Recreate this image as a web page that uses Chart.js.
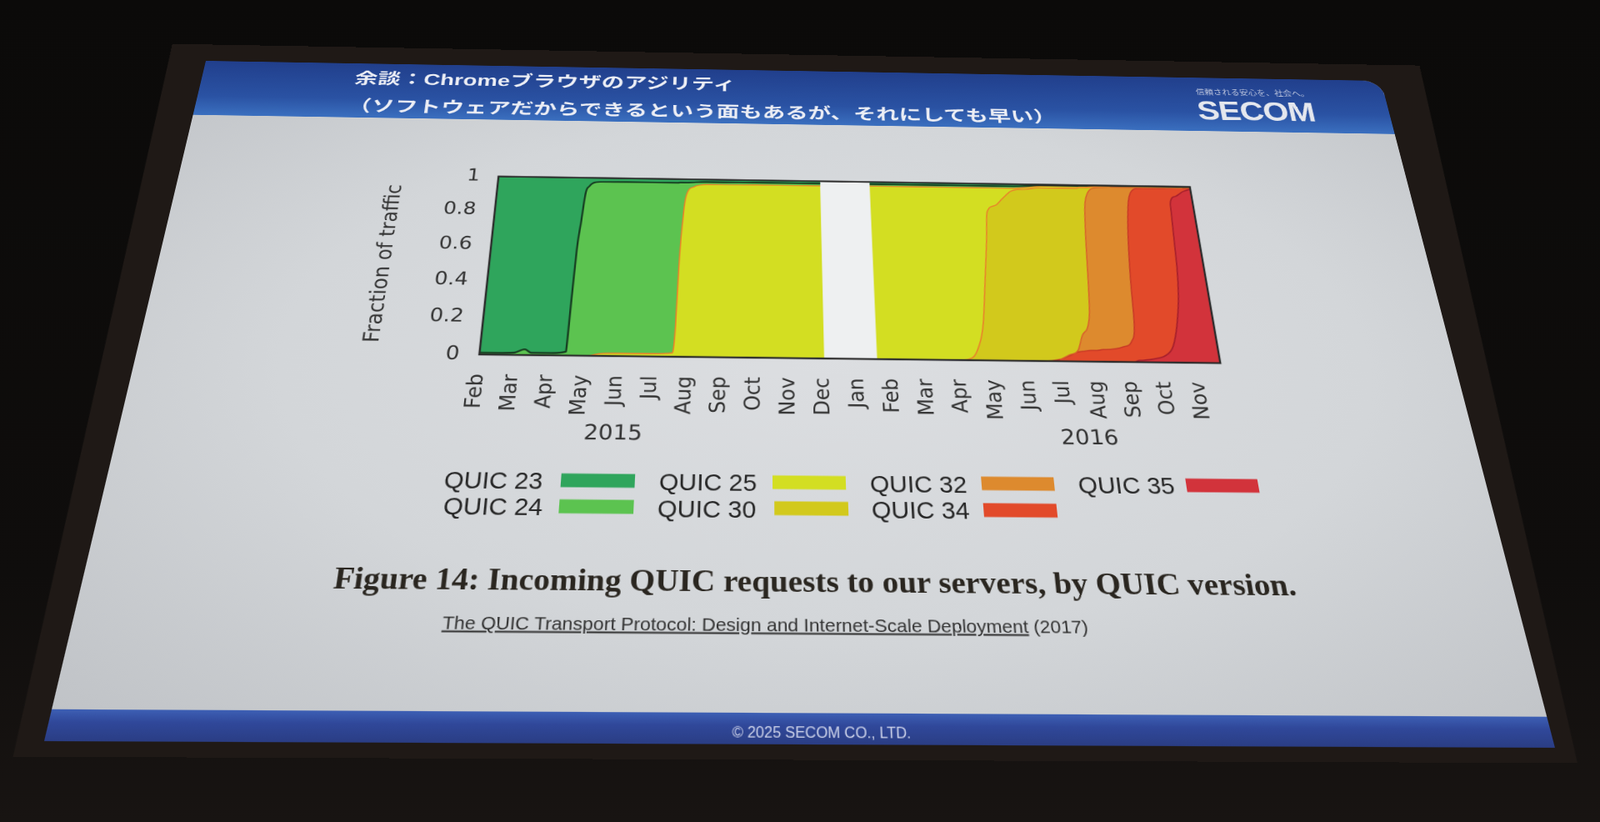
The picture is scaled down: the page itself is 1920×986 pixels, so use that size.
<!DOCTYPE html>
<html lang="ja">
<head>
<meta charset="utf-8">
<title>Incoming QUIC requests by QUIC version</title>
<script src="https://cdn.jsdelivr.net/npm/chart.js@4.4.1/dist/chart.umd.min.js"></script>
<style>
  html, body { margin: 0; width: 1920px; height: 986px; overflow: hidden; }
  body { background: linear-gradient(180deg, #0b0a09 0%, #0f0d0c 70%, #181412 100%); }
  #screen { position: absolute; left: 0; top: 0; width: 1600px; height: 900px; transform-origin: 0 0; }
  #back {
    position: absolute; left: -50px; top: -28px; width: 1710px; height: 944px; background: #1f1916;
    clip-path: polygon(0 0, 100% 0, calc(100% - 40px) 100%, 22px 100%);
  }
  #slide {
    position: absolute; left: 0; top: 0; width: 1600px; height: 900px; overflow: hidden;
    border-top-right-radius: 26px;
    background: radial-gradient(ellipse 75% 70% at 52% 48%, #dcdee1 0%, #d3d6d9 55%, #bfc2c6 100%);
  }
  #head { position: absolute; left: 0; top: 0; width: 1600px;
          background: linear-gradient(180deg, #213f8c 0%, #2a52a3 65%, #3a6fbf 100%); }
  #foot { position: absolute; left: 0; bottom: 0; width: 1600px;
          background: linear-gradient(180deg, #3d5fb4 0%, #30489a 40%, #2a3d84 100%); }
  .txt { position: absolute; white-space: nowrap; line-height: 1; }
  #t1, #t2 { font-family: 'Noto Sans CJK JP', sans-serif; font-weight: 700; font-size: 30.6px; color: #eceef5; }
  #t1 .latin { font-family: 'Liberation Sans Narrow', 'Liberation Sans', sans-serif; font-weight: 700; }
  #logo { font-family: 'Liberation Sans', Arial, sans-serif; font-weight: 700; font-size: 45px; color: #e4e7ee; letter-spacing: -1px; }
  #tag { font-family: 'Noto Sans CJK JP', sans-serif; font-size: 12px; color: #b9c2dc; }
  #caption { font-family: 'Liberation Serif', serif; font-weight: 700; font-size: 36.5px; color: #2a2620; }
  #ref { font-family: 'Liberation Sans', Arial, sans-serif; font-size: 21px; color: #333; }
  #copy { font-family: 'Liberation Sans', Arial, sans-serif; font-size: 16px; color: #cdd3ea; }
  .legtxt { font-family: 'Liberation Sans', Arial, sans-serif; font-size: 29px; color: #262626; }
  .legsw { position: absolute; width: 85px; height: 17px; }
  #chartBox { position: absolute; }
</style>
</head>
<body>
<div id="screen">
  <div id="back"></div>
  <div id="slide">
    <div id="head"></div>
    <div id="foot"></div>
    <div id="t1" class="txt">余談：<span class="latin">Chrome</span>ブラウザのアジリティ</div>
    <div id="t2" class="txt">（ソフトウェアだからできるという面もあるが、それにしても早い）</div>
    <div id="tag" class="txt">信頼される安心を、社会へ。</div>
    <div id="logo" class="txt">SECOM</div>
    <div id="chartBox"><canvas id="chart"></canvas></div>
    <div id="caption" class="txt">Figure 14: Incoming QUIC requests to our servers, by QUIC version.</div>
    <div id="ref" class="txt"><u>The QUIC Transport Protocol: Design and Internet-Scale Deployment</u> (2017)</div>
    <div id="copy" class="txt">© 2025 SECOM CO., LTD.</div>
  </div>
</div>
<script>
// ── Data ───────────────────────────────────────────────────
// x = months since Feb 2015 (0 = Feb 2015, 21 = Nov 2016); null = no data (Dec–Jan gap)
const months = [0, 0.5, 1, 1.3, 1.5, 2, 2.5, 2.55, 2.6, 2.67,
  2.74, 2.85, 3.1, 3.5, 4, 5, 5.6, 5.67, 5.71, 5.8,
  5.88, 6.1, 6.5, 7, 8, 9, 10.05, 10.8, 11.6, 12,
  13, 14, 14.38, 14.57, 14.81, 14.98, 15.14, 15.23, 15.5, 15.74,
  16.07, 16.5, 17, 17.3, 17.57, 17.75, 17.95, 18.05, 18.13, 18.22,
  18.32, 18.4, 18.7, 18.92, 19.2, 19.36, 19.43, 19.54, 19.7, 19.8,
  20.08, 20.23, 20.37, 20.49, 20.65, 20.83, 20.92, 20.97, 21.02, 21.04,
  21.23, 21.5, 21.75];

const q23 = [0.99, 0.99, 0.988, 0.97, 0.988, 0.988, 0.98, 0.70, 0.42, 0.26,
  0.10, 0.05, 0.025, 0.023, 0.022, 0.022, 0.022, 0.02, 0.02, 0.02,
  0.02, 0.018, 0.015, 0.015, 0.014, 0.014, 0.014, null, 0.013, 0.013,
  0.013, 0.013, 0.013, 0.013, 0.013, 0.013, 0.013, 0.013, 0.013, 0.013,
  0.013, 0.01, 0.005, 0.005, 0.005, 0.005, 0.005, 0.005, 0.005, 0.004,
  0.004, 0.004, 0.002, 0.002, 0.002, 0.002, 0.002, 0.002, 0.002, 0.002,
  0.002, 0.002, 0.002, 0.002, 0.002, 0.002, 0.002, 0.002, 0.002, 0.002,
  0.002, 0.002, 0.002];
const q24 = [0.01, 0.01, 0.012, 0.03, 0.012, 0.012, 0.02, 0.30, 0.58, 0.74,
  0.90, 0.95, 0.975, 0.965, 0.963, 0.963, 0.958, 0.81, 0.49, 0.18,
  0.07, 0.027, 0.015, 0.015, 0.014, 0.014, 0.014, null, 0.012, 0.012,
  0.012, 0.012, 0.012, 0.012, 0.012, 0.012, 0.012, 0.012, 0.012, 0.012,
  0.012, 0.01, 0.005, 0.005, 0.005, 0.005, 0.005, 0.005, 0.005, 0.004,
  0.004, 0.004, 0.003, 0.003, 0.003, 0.003, 0.003, 0.003, 0.003, 0.003,
  0.003, 0.003, 0.003, 0.003, 0.003, 0.003, 0.003, 0.003, 0.003, 0.003,
  0.003, 0.003, 0.003];
const q25 = [0, 0, 0, 0, 0, 0, 0, 0, 0, 0,
  0, 0, 0, 0.012, 0.015, 0.015, 0.02, 0.17, 0.49, 0.80,
  0.91, 0.955, 0.97, 0.97, 0.972, 0.972, 0.972, null, 0.975, 0.975,
  0.975, 0.975, 0.965, 0.925, 0.785, 0.545, 0.305, 0.145, 0.105, 0.065,
  0.015, 0.01, 0.01, 0.01, 0.01, 0.01, 0.01, 0.01, 0.01, 0.007,
  0.007, 0.007, 0.005, 0.005, 0.005, 0.005, 0.005, 0.005, 0.005, 0.005,
  0.005, 0.005, 0.005, 0.005, 0.005, 0.005, 0.005, 0.005, 0.005, 0.005,
  0.005, 0.005, 0.005];
const q30 = [0, 0, 0, 0, 0, 0, 0, 0, 0, 0,
  0, 0, 0, 0, 0, 0, 0, 0, 0, 0,
  0, 0, 0, 0, 0, 0, 0, null, 0, 0,
  0, 0, 0.01, 0.05, 0.19, 0.43, 0.67, 0.83, 0.87, 0.91,
  0.96, 0.97, 0.97, 0.945, 0.92, 0.84, 0.79, 0.71, 0.54, 0.305,
  0.115, 0.055, 0.005, 0.002, 0, 0, 0, 0, 0, 0,
  0, 0, 0, 0, 0, 0, 0, 0, 0, 0,
  0, 0, 0];
const q32 = [0, 0, 0, 0, 0, 0, 0, 0, 0, 0,
  0, 0, 0, 0, 0, 0, 0, 0, 0, 0,
  0, 0, 0, 0, 0, 0, 0, null, 0, 0,
  0, 0, 0, 0, 0, 0, 0, 0, 0, 0,
  0, 0, 0, 0.005, 0.01, 0.085, 0.13, 0.21, 0.38, 0.618,
  0.805, 0.865, 0.915, 0.908, 0.88, 0.77, 0.55, 0.31, 0.10, 0.04,
  0.005, 0.004, 0.004, 0.004, 0.003, 0.003, 0.003, 0.002, 0.002, 0.002,
  0.001, 0, 0];
const q34 = [0, 0, 0, 0, 0, 0, 0, 0, 0, 0,
  0, 0, 0, 0, 0, 0, 0, 0, 0, 0,
  0, 0, 0, 0, 0, 0, 0, null, 0, 0,
  0, 0, 0, 0, 0, 0, 0, 0, 0, 0,
  0, 0, 0.01, 0.03, 0.05, 0.055, 0.06, 0.06, 0.06, 0.062,
  0.065, 0.065, 0.07, 0.08, 0.11, 0.21, 0.43, 0.668, 0.875, 0.932,
  0.955, 0.941, 0.916, 0.871, 0.777, 0.617, 0.467, 0.308, 0.148, 0.088,
  0.049, 0.02, 0.005];
const q35 = [0, 0, 0, 0, 0, 0, 0, 0, 0, 0,
  0, 0, 0, 0, 0, 0, 0, 0, 0, 0,
  0, 0, 0, 0, 0, 0, 0, null, 0, 0,
  0, 0, 0, 0, 0, 0, 0, 0, 0, 0,
  0, 0, 0, 0, 0, 0, 0, 0, 0, 0,
  0, 0, 0, 0, 0, 0.01, 0.01, 0.012, 0.015, 0.018,
  0.03, 0.045, 0.07, 0.115, 0.21, 0.37, 0.52, 0.68, 0.84, 0.90,
  0.94, 0.97, 0.985];

const versionNames = ["QUIC 23", "QUIC 24", "QUIC 25", "QUIC 30", "QUIC 32", "QUIC 34", "QUIC 35"];
const versionValues = [q23, q24, q25, q30, q32, q34, q35];
const monthLabels = ["Feb", "Mar", "Apr", "May", "Jun", "Jul", "Aug", "Sep", "Oct", "Nov", "Dec",
  "Jan", "Feb", "Mar", "Apr", "May", "Jun", "Jul", "Aug", "Sep", "Oct", "Nov"];
const yearLabels = ["2015", "2016"];
const yearPos = [4.0, 17.6];
const X_MAX = 21.75;

// ── Styles ─────────────────────────────────────────────────
const fillColors = ["#2fa55c", "#5cc350", "#d3de22", "#d2c91c", "#dd8a2e", "#e24a2a", "#d2333b"];
const edgeColors = ["#2c3a2c", "#173f22", "#e9822a", "#e9822a", "#d8642a", "#c83a26", "#a8202c"];
const edgeWidths = [1.6, 2.4, 1.6, 1.6, 1.6, 1.6, 1.8];

// ── Slide geometry (photo is a projected slide seen at an angle) ──
const SW = 1600, SH = 900;
const corners = [[247, 73], [1657, 97], [1866, 897], [53, 889]]; // TL, TR, BR, BL in the photo

function squareToQuad(p) {
  const [[x0, y0], [x1, y1], [x2, y2], [x3, y3]] = p;
  const dx1 = x1 - x2, dx2 = x3 - x2, dy1 = y1 - y2, dy2 = y3 - y2;
  const sx = x0 - x1 + x2 - x3, sy = y0 - y1 + y2 - y3;
  const den = dx1 * dy2 - dx2 * dy1;
  const g = (sx * dy2 - dx2 * sy) / den;
  const h = (dx1 * sy - sx * dy1) / den;
  return { a: x1 - x0 + g * x1, b: x3 - x0 + h * x3, c: x0,
           d: y1 - y0 + g * y1, e: y3 - y0 + h * y3, f: y0, g, h };
}
const H = squareToQuad(corners);

function toSlide(X, Y) {
  const { a, b, c, d, e, f, g, h } = H;
  const A1 = a - g * X, B1 = b - h * X, C1 = X - c;
  const A2 = d - g * Y, B2 = e - h * Y, C2 = Y - f;
  const det = A1 * B2 - B1 * A2;
  return { x: (C1 * B2 - B1 * C2) / det * SW, y: (A1 * C2 - C1 * A2) / det * SH };
}

document.getElementById("screen").style.transform = "matrix3d(" + [
  H.a / SW, H.d / SW, 0, H.g / SW,
  H.b / SH, H.e / SH, 0, H.h / SH,
  0, 0, 1, 0,
  H.c, H.f, 0, 1].join(",") + ")";

function put(el, X, Y, anchor, extra) {
  const p = toSlide(X, Y);
  el.style.left = p.x + "px";
  el.style.top = p.y + "px";
  el.style.transform = (anchor === "c" ? "translate(-50%, -50%)" : "translate(0, -50%)") + (extra || "");
}

document.getElementById("head").style.height = toSlide(950, 149).y + "px";
document.getElementById("foot").style.height = (SH - toSlide(960, 855).y) + "px";
put(document.getElementById("t1"), 426, 93, "l", " scaleY(0.86)");
put(document.getElementById("t2"), 418, 125, "l", " scaleY(0.86)");
put(document.getElementById("tag"), 1503, 111, "c");
put(document.getElementById("logo"), 1507, 133, "c");
put(document.getElementById("caption"), 401, 693, "l");
put(document.getElementById("ref"), 531, 746, "l");
put(document.getElementById("copy"), 986, 879, "c");

// ── Legend (label left of swatch, two rows, column-major) ──
const legendSpots = [[533, 576, 673], [532, 607, 671], [791, 578, 927], [789, 610, 929],
  [1044, 580, 1178], [1046, 612, 1180], [1294, 582, 1424]];
const slide = document.getElementById("slide");
versionNames.forEach((name, i) => {
  const t = document.createElement("div");
  t.className = "txt legtxt";
  t.textContent = name;
  slide.appendChild(t);
  put(t, legendSpots[i][0], legendSpots[i][1], "l");
  const s = document.createElement("div");
  s.className = "legsw";
  s.style.background = fillColors[i];
  slide.appendChild(s);
  put(s, legendSpots[i][2], legendSpots[i][1], "l");
});

// ── Chart ──────────────────────────────────────────────────
Chart.defaults.font.family = "'DejaVu Sans', sans-serif";
Chart.defaults.color = "#333";

const Y_W = 150, PAD_T = 30, PAD_R = 30, X_H = 100, PAD_B = 60, YEAR_DY = 103;
const plotPhoto = { tl: [598, 212], tr: [1427, 223], br: [1464, 435], bl: [575, 425] };
const pq = {};
Object.keys(plotPhoto).forEach(k => (pq[k] = toSlide(plotPhoto[k][0], plotPhoto[k][1])));
const plot = {
  left: (pq.tl.x + pq.bl.x) / 2, right: (pq.tr.x + pq.br.x) / 2,
  top: (pq.tl.y + pq.tr.y) / 2, bottom: (pq.bl.y + pq.br.y) / 2,
};

// stacked bottom-up: newest version at the bottom
const stackOrder = [6, 5, 4, 3, 2, 1, 0];

const framePlugin = {
  id: "frame",
  beforeDraw(chart) {
    const { ctx, chartArea: a } = chart;
    ctx.save();
    ctx.fillStyle = "#eef0f1";
    ctx.fillRect(a.left, a.top, a.right - a.left, a.bottom - a.top);
    ctx.restore();
  },
  afterDatasetsDraw(chart) {
    const { ctx, chartArea: a } = chart;
    ctx.save();
    // boundary lines, only where the version actually carries traffic
    stackOrder.forEach((k, n) => {
      const vals = versionValues[k];
      const line = chart.getDatasetMeta(n).dataset;
      ctx.strokeStyle = edgeColors[k];
      ctx.lineWidth = edgeWidths[k];
      let s = -1;
      for (let i = 0; i < vals.length; i++) {
        const on = i < vals.length - 1 && vals[i] !== null && vals[i + 1] !== null &&
          !(vals[i] === 0 && vals[i + 1] === 0);
        if (on && s < 0) s = i;
        if (!on && s >= 0) {
          ctx.beginPath();
          line.path(ctx, s, i - s + 1);
          ctx.stroke();
          s = -1;
        }
      }
    });
    ctx.strokeStyle = "#2b2b2b";
    ctx.lineWidth = 2.5;
    ctx.strokeRect(a.left, a.top, a.right - a.left, a.bottom - a.top);
    ctx.restore();
  },
  afterDraw(chart) {
    const { ctx, chartArea: a, scales } = chart;
    ctx.save();
    ctx.fillStyle = "#333";
    ctx.font = "27px 'DejaVu Sans'";
    ctx.textAlign = "center";
    ctx.textBaseline = "middle";
    yearLabels.forEach((t, i) => ctx.fillText(t, scales.x.getPixelForValue(yearPos[i]), a.bottom + YEAR_DY));
    ctx.restore();
  },
};

const datasets = stackOrder.map((k, n) => ({
  label: versionNames[k],
  data: months.map((m, i) => ({ x: m, y: versionValues[k][i] })),
  backgroundColor: fillColors[k],
  borderWidth: 0,
  fill: n === 0 ? "origin" : "-1",
  pointRadius: 0,
  cubicInterpolationMode: "monotone",
}));

let chart = null;
const box = document.getElementById("chartBox");
const canvas = document.getElementById("chart");

function makeChart(w, h, offL, offT) {
  if (chart) chart.destroy();
  box.style.left = (plot.left - offL) + "px";
  box.style.top = (plot.top - offT) + "px";
  canvas.width = Math.round(w);
  canvas.height = Math.round(h);
  canvas.style.width = Math.round(w) + "px";
  canvas.style.height = Math.round(h) + "px";
  chart = new Chart(canvas, {
    type: "line",
    data: { datasets },
    options: {
      responsive: false,
      animation: false,
      devicePixelRatio: 2,
      layout: { padding: { top: PAD_T, right: PAD_R, bottom: PAD_B, left: 0 } },
      plugins: { legend: { display: false }, tooltip: { enabled: false } },
      scales: {
        x: {
          type: "linear", min: 0, max: X_MAX,
          grid: { display: false }, border: { display: false },
          afterFit: s => { s.height = X_H; },
          ticks: {
            stepSize: 1, autoSkip: false, includeBounds: false,
            minRotation: 90, maxRotation: 90, padding: 18,
            font: { size: 26 }, color: "#333",
            callback: v => (Number.isInteger(v) && monthLabels[v]) ? monthLabels[v] : "",
          },
        },
        y: {
          stacked: true, min: 0, max: 1,
          grid: { display: false }, border: { display: false },
          afterFit: s => { s.width = Y_W; },
          title: { display: true, text: "Fraction of traffic", color: "#333", font: { size: 27 }, padding: { top: 4, bottom: 0 } },
          ticks: { stepSize: 0.2, padding: 16, font: { size: 26 }, color: "#333", callback: v => String(+v.toFixed(1)) },
        },
      },
    },
    plugins: [framePlugin],
  });
}

const plotW = plot.right - plot.left, plotH = plot.bottom - plot.top;
makeChart(plotW + Y_W + PAD_R, plotH + PAD_T + X_H + PAD_B, Y_W, PAD_T);

// correct the canvas so the plot area lands exactly on the photographed frame
const ca = chart.chartArea;
const offL = ca.left, offT = ca.top;
const offR = chart.width - ca.right, offB = chart.height - ca.bottom;
if (Math.abs(ca.right - ca.left - plotW) > 0.5 || Math.abs(ca.bottom - ca.top - plotH) > 0.5 || offL !== Y_W || offT !== PAD_T) {
  makeChart(plotW + offL + offR, plotH + offT + offB, offL, offT);
}
</script>
</body>
</html>
